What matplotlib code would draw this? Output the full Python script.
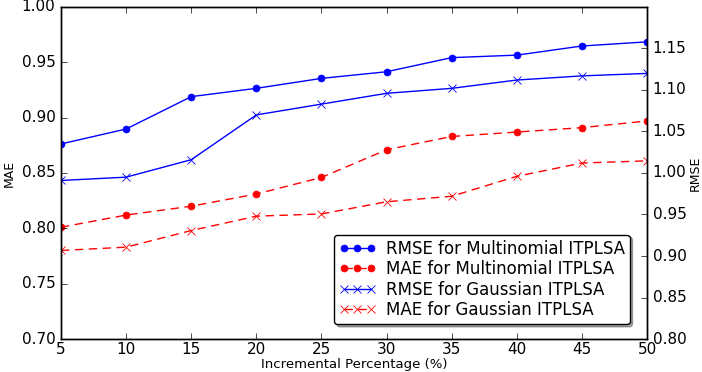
import matplotlib
matplotlib.use("Agg")
import matplotlib.pyplot as plt

plt.style.use("classic")

percent = [5, 10, 15, 20, 25, 30, 35, 40, 45, 50]

rmse_multinomial = [1.035, 1.053, 1.092, 1.102, 1.114, 1.122, 1.139, 1.142, 1.153, 1.158]
rmse_gaussian = [0.991, 0.995, 1.016, 1.070, 1.083, 1.096, 1.102, 1.112, 1.117, 1.120]
mae_multinomial = [0.801, 0.812, 0.820, 0.831, 0.846, 0.871, 0.883, 0.887, 0.891, 0.897]
mae_gaussian = [0.780, 0.783, 0.798, 0.811, 0.813, 0.824, 0.829, 0.847, 0.859, 0.861]

fig = plt.figure(figsize=(7.02, 3.72), dpi=100, facecolor="white")
ax = fig.add_axes([0.0869, 0.0887, 0.8348, 0.8925])
ax2 = ax.twinx()

l1, = ax2.plot(percent, rmse_multinomial, "b-o", lw=1, ms=5, mec="b",
               label="RMSE for Multinomial ITPLSA")
l2, = ax.plot(percent, mae_multinomial, "r--o", lw=1, ms=5, mec="r",
              dashes=(6, 4), label="MAE for Multinomial ITPLSA")
l3, = ax2.plot(percent, rmse_gaussian, "b-x", lw=1, ms=6, mew=0.6,
               label="RMSE for Gaussian ITPLSA")
l4, = ax.plot(percent, mae_gaussian, "r--x", lw=1, ms=6, mew=0.6,
              dashes=(6, 4), label="MAE for Gaussian ITPLSA")

ax.set_xlim(5, 50)
ax.set_ylim(0.70, 1.00)
ax2.set_ylim(0.80, 1.20)
ax.set_xticks(percent)
ax.set_yticks([0.70, 0.75, 0.80, 0.85, 0.90, 0.95, 1.00])
ax2.set_yticks([0.80, 0.85, 0.90, 0.95, 1.00, 1.05, 1.10, 1.15])
ax.set_yticklabels(["%.2f" % v for v in ax.get_yticks()])
ax2.set_yticklabels(["%.2f" % v for v in ax2.get_yticks()])

ax.tick_params(labelsize=11)
ax.tick_params(axis="x", pad=2)
ax2.tick_params(labelsize=11)
ax.set_xlabel("Incremental Percentage (%)", fontsize=9.5)
ax.xaxis.set_label_coords(0.5, -0.056)
ax.set_ylabel("MAE", fontsize=9, labelpad=4)
ax2.set_ylabel("RMSE", fontsize=9, labelpad=2)

leg = ax2.legend(handles=[l1, l2, l3, l4], loc="lower right",
                 bbox_to_anchor=(0.9846, 0.02), numpoints=3,
                 fontsize=12, labelspacing=0.15, handlelength=2.2,
                 handletextpad=0.6, borderpad=0.3, fancybox=True, shadow=True)

fig.savefig("out.png", dpi=100, facecolor="white")
